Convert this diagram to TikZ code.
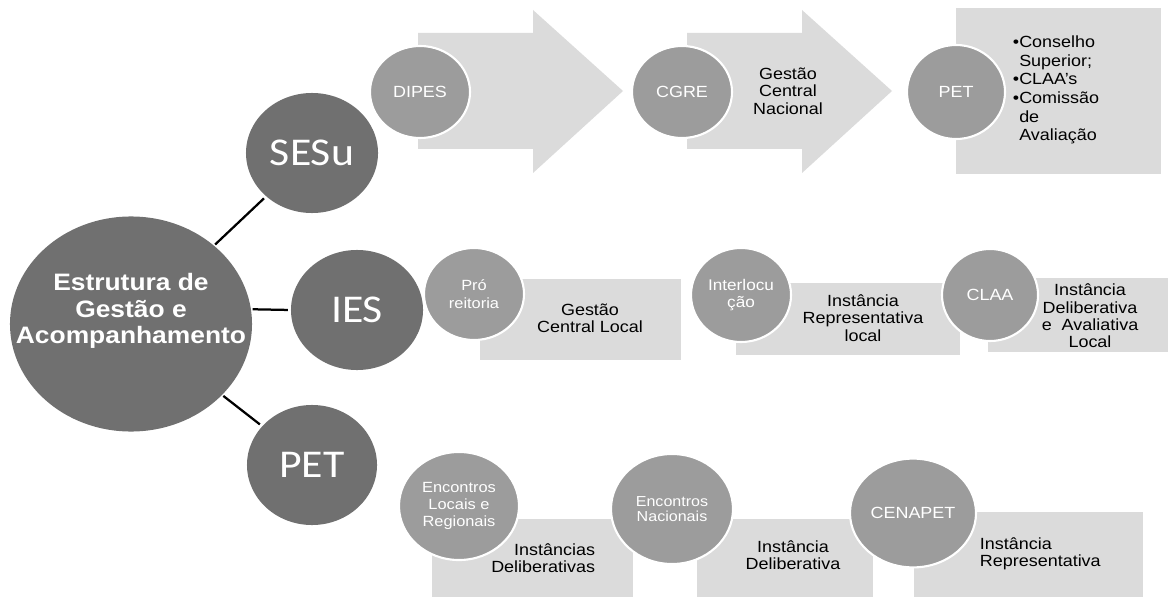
\documentclass[tikz,border=0pt]{standalone}
\usepackage{fontspec}
\setmainfont[FakeStretch=1.11]{Liberation Sans}
\newfontfamily\calibfont[FakeStretch=1.11]{Carlito}
\usetikzlibrary{shapes.geometric}

\definecolor{discoescuro}{RGB}{112,112,112}
\definecolor{discomedio}{RGB}{156,156,156}
\definecolor{caixaclara}{RGB}{219,219,219}

\tikzset{
  discogrande/.style={ellipse, fill=discoescuro, text=white, inner sep=0pt,
    minimum width=3.3cm, minimum height=3cm, font=\calibfont\fontsize{28}{30}\selectfont},
  discopequeno/.style={ellipse, fill=discomedio, draw=white, line width=1.5pt, text=white,
    inner sep=0pt, align=center, minimum width=2.5cm, minimum height=2.3cm,
    font=\fontsize{11.5}{12}\selectfont},
  texto/.style={align=center, font=\fontsize{11.5}{12.4}\selectfont},
  ligacao/.style={line width=1.6pt, black, shorten <=1pt, shorten >=2pt}
}

\begin{document}
\begin{tikzpicture}[x=0.025cm, y=-0.025cm]
    \useasboundingbox (0,0) rectangle (1170,597);

    % SESu: setas e caixa
    \fill[caixaclara] (418,33) -- (533,33) -- (533,10) -- (623,91) -- (533,173) -- (533,149) -- (418,149) -- cycle;
    \fill[caixaclara] (687,33) -- (802,33) -- (802,10) -- (892,91) -- (802,173) -- (802,149) -- (687,149) -- cycle;
    \fill[caixaclara] (956,8) rectangle (1161,174);

    % IES: caixas
    \fill[caixaclara] (480,279) rectangle (681,360);
    \fill[caixaclara] (736,283) rectangle (960,355);
    \fill[caixaclara] (988,278) rectangle (1168,352);

    % PET: caixas
    \fill[caixaclara] (432,519) rectangle (633,597);
    \fill[caixaclara] (697,519) rectangle (873,597);
    \fill[caixaclara] (914,512) rectangle (1143,597);

    % discos principais
    \node[discogrande, minimum width=6.05cm, minimum height=5.375cm] (main) at (131,324) {};
    \node[align=center, text=white, font=\bfseries\fontsize{16.9}{18.8}\selectfont] at (131,311)
      {Estrutura de\\Gestão e\\Acompanhamento};
    \node[discogrande] (sesu) at (312,153) {SESu};
    \node[discogrande] (ies) at (357,310) {IES};
    \node[discogrande, minimum width=3.25cm] (pet) at (312,465) {PET};

    \draw[ligacao] (main) -- (sesu);
    \draw[ligacao] (main.7) -- (ies.west);
    \draw[ligacao] (main) -- (pet);

    % SESu
    \node[discopequeno] (dipes) at (420,92) {DIPES};
    \node[discopequeno] (cgre) at (682,92) {CGRE};
    \node[discopequeno, minimum width=2.45cm, minimum height=2.35cm] (petc) at (956,92) {PET};
    \node[texto] at (788,91) {Gestão\\Central\\Nacional};
    \node[anchor=west, align=left, font=\fontsize{11.5}{13.3}\selectfont] at (1008,90)
      {•Conselho\\\phantom{•}Superior;\\•CLAA's\\•Comissão\\\phantom{•}de\\\phantom{•}Avaliação};

    % IES
    \node[discopequeno, font=\fontsize{10.5}{12.5}\selectfont] (pro) at (474,294) {Pró\\reitoria};
    \node[discopequeno, minimum height=2.35cm, font=\fontsize{11}{12.5}\selectfont] (inter) at (741,295) {Interlocu\\ção};
    \node[discopequeno, minimum width=2.4cm] (claa) at (990,295) {CLAA};
    \node[texto] at (590,318) {Gestão\\Central Local};
    \node[texto] at (863,318) {Instância\\Representativa\\local};
    \node[texto] at (1090,316) {Instância\\Deliberativa\\e~~Avaliativa\\Local};

    % PET
    \node[discopequeno, minimum width=3cm, minimum height=2.7cm, font=\fontsize{10.5}{12}\selectfont] (encloc) at (459,506) {Encontros\\Locais e\\Regionais};
    \node[discopequeno, minimum width=3.05cm, minimum height=2.75cm, font=\fontsize{10.3}{11}\selectfont] (encnac) at (672,509) {Encontros\\Nacionais};
    \node[discopequeno, minimum width=3.15cm, minimum height=2.72cm] (cenapet) at (913,513) {CENAPET};
    \node[texto, anchor=east, align=right] at (600,558) {Instâncias\\Deliberativas};
    \node[texto] at (793,555) {Instância\\Deliberativa};
    \node[texto, anchor=west, align=left] at (975,554) {Instância\\Representativa};
\end{tikzpicture}
\end{document}
